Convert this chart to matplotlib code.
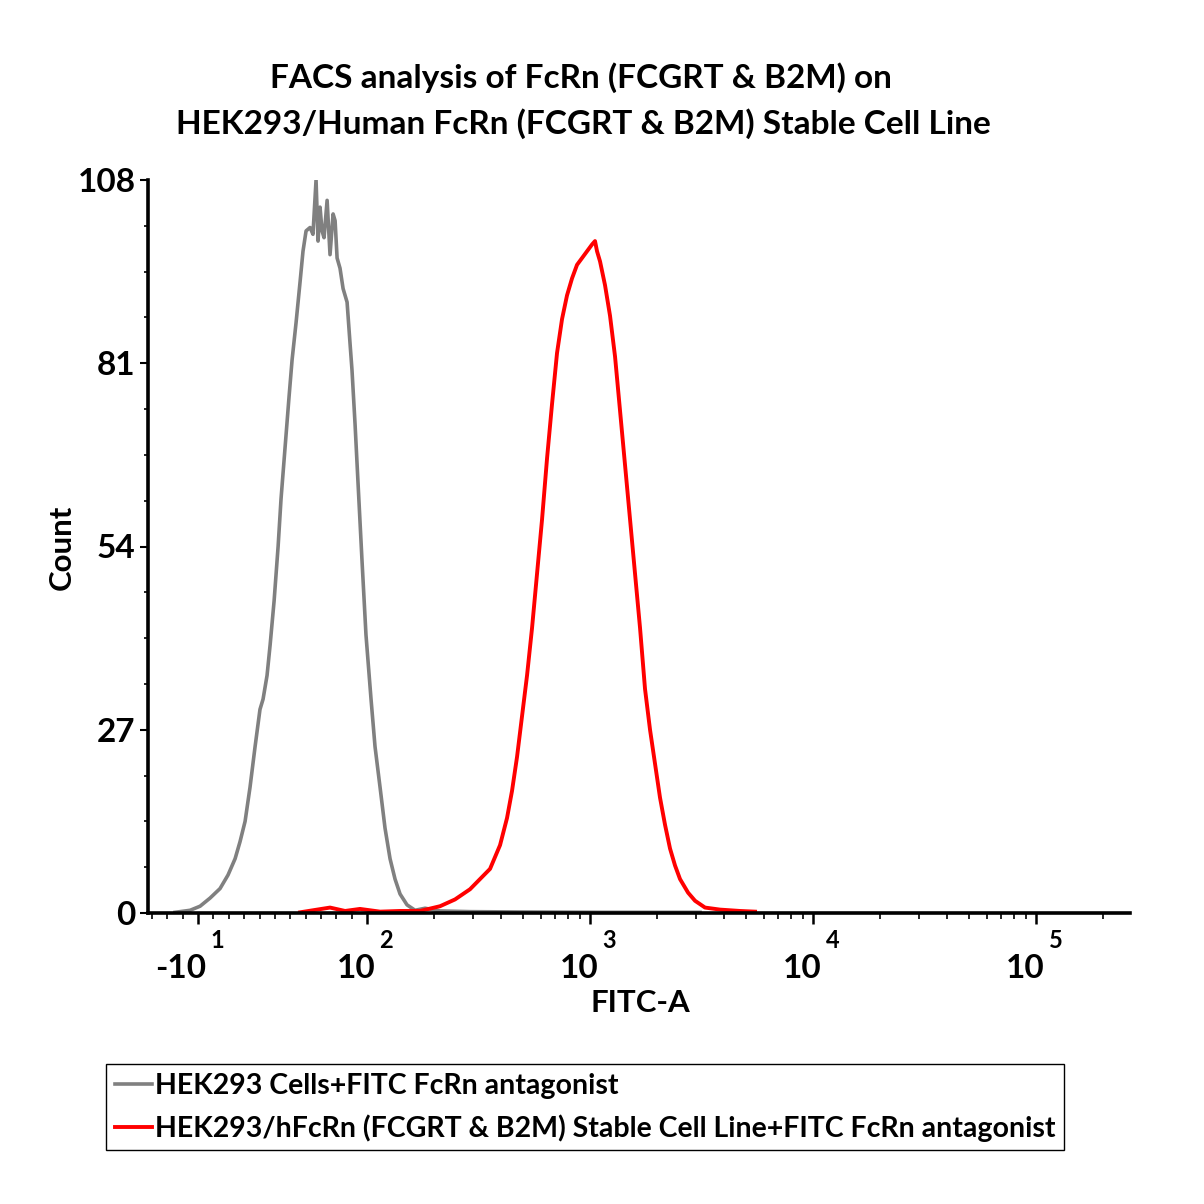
import matplotlib
matplotlib.use("Agg")
import matplotlib.pyplot as plt
import numpy as np

# ---------------- data ----------------
gray_label = "HEK293 Cells+FITC FcRn antagonist"
red_label = "HEK293/hFcRn (FCGRT & B2M) Stable Cell Line+FITC FcRn antagonist"

gray_fitc = [-25, -15.2, -8.7, -2.2, 4.3, 9.5, 14.1, 17.3, 20.6, 23.8, 27.1, 30.3,
             32.3, 34.9, 36.9, 39.5, 42.1, 44.0, 46.6, 49.2, 51.2, 53.8, 56.4, 58.3,
             60.3, 62.9, 64.8, 66.8, 68.1, 69.4, 70.7, 72.0, 74.0, 75.9, 77.9, 79.2,
             80.5, 82.4, 84.4, 87.0, 88.9, 90.2, 92.2, 94.1, 96.7, 99.3, 104.2, 108.6,
             114.4, 120.4, 126.8, 133.5, 140.6, 151.1, 164.2, 182.0, 212.5, 289.6,
             485.6, 1109, 3114]
gray_count = [0.1, 0.4, 1.0, 2.2, 3.6, 5.6, 8.0, 10.5, 13.5, 18.5, 24.5, 30.0,
              31.5, 35.0, 39.5, 46.0, 54.0, 61.0, 68.5, 76.0, 81.5, 87.0, 93.0, 97.5,
              100.5, 101.0, 100.0, 108.0, 99.0, 104.0, 100.5, 99.5, 105.0, 97.0, 103.0, 102.0,
              96.5, 95.0, 92.0, 90.0, 84.0, 80.0, 72.0, 63.5, 52.0, 41.0, 31.5, 24.5,
              18.5, 12.5, 8.0, 5.0, 2.8, 1.2, 0.4, 0.7, 0.3, 0.2,
              0.15, 0.1, 0.1]

red_fitc = [56.4, 75.9, 85.7, 95.4, 114.4, 140.6, 172.9, 212.5, 248.1, 289.6, 321.1,
            356.1, 394.9, 424.4, 446.9, 470.6, 495.5, 521.8, 549.5, 578.6, 609.3,
            641.6, 675.5, 711.2, 748.9, 788.5, 830.3, 874.3, 920.7, 969.4, 1020.9,
            1052.9, 1075, 1109, 1167.5, 1229.3, 1294.6, 1363.3, 1435.5, 1511.5,
            1591.5, 1675.9, 1764.6, 1858.2, 1956.3, 2059.8, 2169.3, 2284.1, 2405.3,
            2532.6, 2751.8, 2957.9, 3279.4, 3828, 4706, 5495]
red_count = [0.1, 0.8, 0.3, 0.6, 0.2, 0.3, 0.3, 1.0, 2.0, 3.5, 5.0,
             6.5, 10.0, 14.0, 18.0, 23.0, 29.0, 35.0, 42.0, 50.0, 58.0,
             67.0, 75.0, 82.5, 87.5, 91.0, 93.5, 95.5, 96.5, 97.5, 98.5,
             99.0, 97.5, 96.0, 92.5, 88.0, 82.0, 74.0, 66.0, 58.0,
             50.0, 42.0, 33.0, 27.0, 22.0, 17.0, 13.0, 9.5, 7.0,
             5.0, 3.0, 1.8, 0.8, 0.5, 0.3, 0.2]

y_ticks = [0, 27, 54, 81, 108]
x_major = [-10, 100, 1000, 10000, 100000]
x_major_base = ["-10", "10", "10", "10", "10"]
x_major_exp = ["1", "2", "3", "4", "5"]

title_lines = ["FACS analysis of FcRn (FCGRT & B2M) on",
               "HEK293/Human FcRn (FCGRT & B2M) Stable Cell Line"]

# ---------------- figure ----------------
FONT = "Lato"
plt.rcParams["font.family"] = [FONT, "DejaVu Sans"]
plt.rcParams["font.weight"] = "bold"

W = H = 1204
fig = plt.figure(figsize=(W / 100, H / 100), dpi=100)
ax = fig.add_axes([148 / W, 1 - 913 / H, (1130 - 148) / W, (913 - 180) / H])

ax.set_xscale("symlog", linthresh=100, linscale=0.62)
ax.set_xlim(-42.6, 264000)
ax.set_ylim(0, 108)

ax.plot(gray_fitc, gray_count, color="#808080", lw=2.6, label=gray_label)
ax.plot(red_fitc, red_count, color="#ff0000", lw=2.8, label=red_label)

for s in ["top", "right"]:
    ax.spines[s].set_visible(False)
for s in ["left", "bottom"]:
    ax.spines[s].set_linewidth(2.6)

# y ticks
ax.set_yticks(y_ticks)
ax.set_yticks(np.arange(0, 108.01, 6.75), minor=True)
ax.tick_params(axis="y", which="major", length=6, width=1.5, labelsize=24, pad=3)
ax.tick_params(axis="y", which="minor", length=3, width=1.2)
for lab in ax.get_yticklabels():
    lab.set_fontweight("bold")

# x ticks
minor = [-40, -30, -20, 0, 10, 20, 30, 40, 50, 60, 70, 80, 90]
for dec in [100, 1000, 10000]:
    minor += [dec * k for k in range(2, 10)]
minor += [200000]
ax.set_xticks(x_major)
ax.set_xticks(minor, minor=True)
ax.set_xticklabels([])
ax.tick_params(axis="x", which="major", length=8, width=1.8)
ax.tick_params(axis="x", which="minor", length=4, width=1.2)

for v, b, e in zip(x_major, x_major_base, x_major_exp):
    ax.annotate(b, xy=(v, 0), xycoords=("data", "axes fraction"),
                xytext=(6, -40), textcoords="offset points",
                ha="right", va="center", fontsize=24, fontweight="bold")
    ax.annotate(e, xy=(v, 0), xycoords=("data", "axes fraction"),
                xytext=(9, -20), textcoords="offset points",
                ha="left", va="center", fontsize=17, fontweight="bold")

fig.text(640 / W, 1 - 1003 / H, "FITC-A", ha="center", va="center", fontsize=22.5, fontweight="bold")
fig.text(62 / W, 1 - 547 / H, "Count", ha="center", va="center", rotation=90, fontsize=22.5, fontweight="bold")

fig.text(581 / W, 1 - 78 / H, title_lines[0], ha="center", va="center", fontsize=24, fontweight="bold")
fig.text(583 / W, 1 - 124 / H, title_lines[1], ha="center", va="center", fontsize=24, fontweight="bold")

leg = fig.legend(loc="upper left", bbox_to_anchor=(106 / W, 1 - 1064 / H),
                 fontsize=20.5, handlelength=1.3, handletextpad=0.12, borderpad=0.3,
                 labelspacing=0.55, fancybox=False, edgecolor="black", framealpha=1,
                 borderaxespad=0)
leg.get_frame().set_linewidth(1.0)
for t in leg.get_texts():
    t.set_fontweight("bold")

fig.savefig("out.png", dpi=100)
